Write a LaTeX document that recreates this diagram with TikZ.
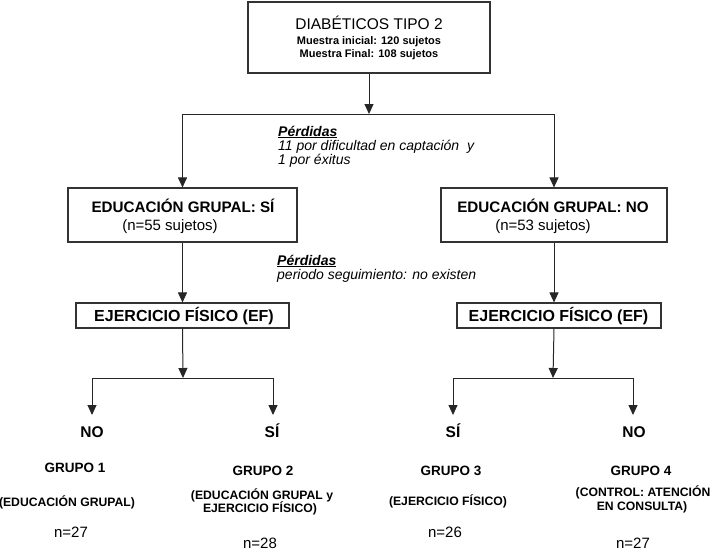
\documentclass[tikz,border=0pt]{standalone}
\usepackage{fontspec}
\setmainfont{Liberation Sans}
\usetikzlibrary{arrows.meta}
\tikzset{
  box/.style={draw=black!80, line width=1.1pt, inner sep=0pt},
  conn/.style={draw=black!85, line width=1pt},
  arr/.style={conn, -{Triangle[length=10pt,width=9pt]}},
  txt/.style={anchor=base, inner sep=0pt},
  ltxt/.style={anchor=base west, inner sep=0pt},
  big/.style={font=\fontsize{15.5}{18}\selectfont},
  small/.style={font=\bfseries\fontsize{11}{13}\selectfont},
  head/.style={font=\bfseries\fontsize{15.2}{18}\selectfont},
  efhead/.style={font=\bfseries\fontsize{16}{18}\selectfont},
  reg/.style={font=\fontsize{15}{18}\selectfont},
  note/.style={font=\itshape\fontsize{14}{16}\selectfont},
  yes/.style={font=\bfseries\fontsize{15.5}{18}\selectfont},
  grp/.style={font=\bfseries\fontsize{13.5}{16}\selectfont},
  desc/.style={font=\bfseries\fontsize{12.2}{15}\selectfont},
}
\begin{document}
\begin{tikzpicture}[x=1pt,y=-1pt]
\useasboundingbox (0,0) rectangle (712,557);

% boxes
\node[box, minimum width=242pt, minimum height=71pt] (top) at (369,37.5) {};
\node[box, minimum width=229pt, minimum height=54pt] (edsi) at (182.5,215) {};
\node[box, minimum width=226pt, minimum height=54pt] (edno) at (554,215) {};
\node[box, minimum width=213pt, minimum height=25pt] (efsi) at (182.5,315.5) {};
\node[box, minimum width=204pt, minimum height=25pt] (efno) at (559,315.5) {};

% box texts
\node[txt, big] (toptitle) at (369,29) {DIABÉTICOS TIPO 2};
\node[txt, small] (topa) at (369,44) {Muestra inicial: 120 sujetos};
\node[txt, small] (topb) at (369,57.5) {Muestra Final: 108 sujetos};

\node[txt, head] (edsit) at (183,212) {EDUCACIÓN GRUPAL: SÍ};
\node[txt, reg] (edsis) at (170,230) {(n=55 sujetos)};
\node[txt, head] (ednot) at (553,212) {EDUCACIÓN GRUPAL: NO};
\node[txt, reg] (ednos) at (543,230) {(n=53 sujetos)};

\node[txt, efhead] (efsit) at (184,321.5) {EJERCICIO FÍSICO (EF)};
\node[txt, efhead] (efnot) at (558.5,321.5) {EJERCICIO FÍSICO (EF)};

% losses notes
\node[ltxt, note] (p1a) at (278,136) {\underline{\textbf{Pérdidas}}};
\node[ltxt, note] (p1b) at (278,150) {11 por dificultad en captación\ \ y};
\node[ltxt, note] (p1c) at (278,164) {1 por éxitus};
\node[ltxt, note] (p2a) at (277,265) {\underline{\textbf{Pérdidas}}};
\node[ltxt, note] (p2b) at (277,279) {periodo seguimiento: no existen};

% junction coordinates
\coordinate (j1) at (369,114);
\coordinate (j2) at (183,378);
\coordinate (j3) at (553,378);
\coordinate (t1) at (92,415);
\coordinate (t2) at (273,415);
\coordinate (t3) at (453,415);
\coordinate (t4) at (633,415);

% connectors
\draw[arr] (top.south) -- (j1);
\draw[arr] (j1) -| (edsi.north);
\draw[arr] (j1) -| (edno.north);
\draw[arr] (edsi.south) -- (edsi.south |- efsi.north);
\draw[arr] (edno.south) -- (edno.south |- efno.north);
\draw[arr] (efsi.south) -- (j2);
\draw[arr] (edno.south |- efno.south) -- (j3);
\draw[arr] (j2) -| (t1);
\draw[arr] (j2) -| (t2);
\draw[arr] (j3) -| (t3);
\draw[arr] (j3) -| (t4);

% group labels
\node[txt, yes] (l1) at (92,437) {NO};
\node[txt, yes] (l2) at (272,437) {SÍ};
\node[txt, yes] (l3) at (453,437) {SÍ};
\node[txt, yes] (l4) at (634,437) {NO};

\node[txt, grp] (g1) at (75,472) {GRUPO 1};
\node[txt, grp] (g2) at (263,475) {GRUPO 2};
\node[txt, grp] (g3) at (451,475) {GRUPO 3};
\node[txt, grp] (g4) at (641,475) {GRUPO 4};

\node[txt, desc] (d1) at (67,506) {(EDUCACIÓN GRUPAL)};
\node[txt, desc] (d2a) at (262,499) {(EDUCACIÓN GRUPAL y};
\node[txt, desc] (d2b) at (260,512.5) {EJERCICIO FÍSICO)};
\node[txt, desc] (d3) at (448,505) {(EJERCICIO FÍSICO)};
\node[txt, desc] (d4a) at (643,496) {(CONTROL: ATENCIÓN};
\node[txt, desc] (d4b) at (642,510) {EN CONSULTA)};

\node[txt, reg] (n1) at (71,537) {n=27};
\node[txt, reg] (n2) at (260,548) {n=28};
\node[txt, reg] (n3) at (445,537) {n=26};
\node[txt, reg] (n4) at (633,548) {n=27};
\end{tikzpicture}
\end{document}
